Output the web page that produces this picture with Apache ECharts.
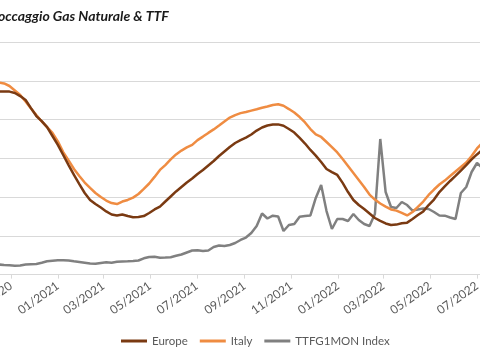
<!DOCTYPE html>
<html>
<head>
<meta charset="utf-8">
<script src="https://cdn.jsdelivr.net/npm/echarts@6/dist/echarts.min.js"></script>
<style>
html,body{margin:0;padding:0;background:#fff;}
#c{width:480px;height:360px;}
</style>
</head>
<body>
<div id="c"></div>
<script>
const titleText = 'Stoccaggio Gas Naturale & TTF';
const weeks = [
'2020-10-16','2020-10-23','2020-10-30','2020-11-06','2020-11-13','2020-11-20','2020-11-27','2020-12-04','2020-12-11','2020-12-18','2020-12-25',
'2021-01-01','2021-01-08','2021-01-15','2021-01-22','2021-01-29','2021-02-05','2021-02-12','2021-02-19','2021-02-26',
'2021-03-05','2021-03-12','2021-03-19','2021-03-26','2021-04-02','2021-04-09','2021-04-16','2021-04-23','2021-04-30',
'2021-05-07','2021-05-14','2021-05-21','2021-05-28','2021-06-04','2021-06-11','2021-06-18','2021-06-25',
'2021-07-02','2021-07-09','2021-07-16','2021-07-23','2021-07-30','2021-08-06','2021-08-13','2021-08-20','2021-08-27',
'2021-09-03','2021-09-10','2021-09-17','2021-09-24','2021-10-01','2021-10-08','2021-10-15','2021-10-22','2021-10-29',
'2021-11-05','2021-11-12','2021-11-19','2021-11-26','2021-12-03','2021-12-10','2021-12-17','2021-12-24','2021-12-31',
'2022-01-07','2022-01-14','2022-01-21','2022-01-28','2022-02-04','2022-02-11','2022-02-18','2022-02-25',
'2022-03-04','2022-03-11','2022-03-18','2022-03-25','2022-04-01','2022-04-08','2022-04-15','2022-04-22','2022-04-29',
'2022-05-06','2022-05-13','2022-05-20','2022-05-27','2022-06-03','2022-06-10','2022-06-17','2022-06-24','2022-07-01','2022-07-08'
];
// storage, % full
const europe = [
94.4,94.4,94.4,93.7,92.1,90.1,85.9,81.8,79.2,76.1,71.5,
66.9,61.7,56.5,51.4,46.7,42.1,38.5,36.4,34.6,
32.6,31.0,30.5,31.0,30.2,29.6,29.7,30.2,31.8,
33.6,35.1,37.7,40.3,42.9,45.2,47.5,49.6,
51.9,54.0,56.3,58.6,61.2,63.5,65.8,67.9,69.4,
70.7,72.3,74.3,75.9,76.9,77.4,77.5,76.8,75.1,
73.3,70.5,67.6,64.3,61.4,58.1,54.5,52.9,51.4,
47.3,42.6,38.5,35.9,33.8,31.5,29.2,27.7,
26.4,25.6,25.8,26.5,26.8,28.7,30.7,32.6,35.9,
38.7,42.6,45.5,48.3,50.9,53.7,56.5,59.4,62.0,64.3
];
const italy = [
99.1,98.6,97.3,95.0,92.7,89.3,85.7,82.3,79.0,76.1,73.1,
68.7,63.2,58.9,54.5,50.9,47.5,44.7,42.1,40.0,
38.2,36.9,36.4,37.7,38.5,39.7,41.6,44.2,47.0,
50.4,54.0,56.5,59.4,62.0,64.0,65.6,66.9,
69.4,71.2,73.1,74.9,76.9,79.0,81.0,82.3,83.3,
83.9,84.6,85.3,86.1,86.7,87.5,87.9,87.1,85.4,
83.6,81.3,78.5,75.1,72.3,71.0,68.4,65.8,63.0,
59.6,56.0,52.4,48.8,45.2,41.3,38.7,36.7,
35.1,33.6,33.0,31.8,30.5,32.3,34.9,37.7,41.1,
43.9,46.5,48.5,50.9,53.2,55.5,57.8,61.2,65.1,67.9
];
// TTF front month, EUR/MWh
const ttf = [
15.6,14.9,14.4,13.6,14.1,15.6,16.1,16.4,18.4,20.6,21.4,
22.1,22.1,21.8,20.6,19.5,18.4,17.2,16.7,18.0,
19.0,18.4,19.8,20.3,20.6,21.0,21.8,25.2,27.2,
27.7,26.2,26.5,26.9,29.1,31.1,34.2,37.3,
37.6,36.5,37.3,42.7,45.0,44.3,45.8,48.9,53.6,
57.4,64.4,75.2,94.6,86.8,91.2,89.9,67.5,76.8,
78.3,89.6,90.7,91.5,118.6,138.7,98.4,70.6,86.1,
86.1,83.0,93.8,84.5,78.3,75.2,93.8,209.9,
127.8,104.6,103.1,112.4,107.7,99.2,100.8,102.3,101.5,
96.9,91.5,91.2,88.4,86.1,126.3,135.6,158.8,172.7,165.0
];
const tickLabels = ['11/2020','01/2021','03/2021','05/2021','07/2021','09/2021','11/2021','01/2022','03/2022','05/2022','07/2022'];
const seriesNames = ['Europe','Italy','TTFG1MON Index'];

const tickValues = tickLabels.map(s => { const p = s.split('/'); return new Date(+p[1], +p[0]-1, 1).getTime(); });
const labelOf = {};
tickValues.forEach((t, i) => { labelOf[t] = tickLabels[i]; });
const dayMs = s => { const p = s.split('-'); return new Date(+p[0], +p[1]-1, +p[2]).getTime(); };
const toPairs = arr => arr.map((v, i) => [dayMs(weeks[i]), v]);

const chart = echarts.init(document.getElementById('c'), null, {renderer: 'canvas'});
chart.setOption({
  animation: false,
  backgroundColor: '#ffffff',
  textStyle: {fontFamily: 'Lato'},
  graphic: [{
    type: 'text', x: -14, y: 9,
    style: {text: titleText, font: 'italic bold 14px Lato', fill: '#1a1a1a'}
  }],
  grid: {left: 0, right: 0, top: 42, bottom: 85.4, containLabel: false, outerBoundsMode: 'none'},
  legend: {
    top: 330, left: 116, itemGap: 12, itemWidth: 26, itemHeight: 3, icon: 'rect',
    textStyle: {color: '#595959', fontSize: 11.5, fontFamily: 'Lato'},
    data: seriesNames
  },
  xAxis: {
    type: 'value',
    min: new Date(2020, 9, 17, 16).getTime(),
    max: new Date(2022, 6, 4, 22).getTime(),
    axisLine: {show: true, onZero: false, lineStyle: {color: '#d9d9d9', width: 1}},
    axisTick: {show: true, length: 4, lineStyle: {color: '#d9d9d9'}, customValues: tickValues},
    splitLine: {show: false},
    axisLabel: {
      customValues: tickValues, rotate: 35, margin: 10, color: '#595959', fontSize: 12, fontFamily: 'Lato',
      showMinLabel: true, showMaxLabel: true,
      formatter: v => labelOf[v] || ''
    }
  },
  yAxis: [{
    type: 'value', min: 0, max: 120, interval: 20,
    axisLabel: {show: false}, axisLine: {show: false}, axisTick: {show: false},
    splitLine: {lineStyle: {color: '#d9d9d9', width: 1}}
  }, {
    type: 'value', min: 0, max: 360, interval: 60,
    axisLabel: {show: false}, axisLine: {show: false}, axisTick: {show: false},
    splitLine: {show: false}
  }],
  series: [
    {name: seriesNames[0], type: 'line', yAxisIndex: 0, data: toPairs(europe), showSymbol: false, symbol: 'none',
     lineStyle: {color: '#7a3a12', width: 2.5}, itemStyle: {color: '#7a3a12'}, z: 3},
    {name: seriesNames[1], type: 'line', yAxisIndex: 0, data: toPairs(italy), showSymbol: false, symbol: 'none',
     lineStyle: {color: '#ef8c42', width: 2.5}, itemStyle: {color: '#ef8c42'}, z: 2},
    {name: seriesNames[2], type: 'line', yAxisIndex: 1, data: toPairs(ttf), showSymbol: false, symbol: 'none',
     lineStyle: {color: '#808080', width: 2.5}, itemStyle: {color: '#808080'}, z: 1}
  ]
});
</script>
</body>
</html>
